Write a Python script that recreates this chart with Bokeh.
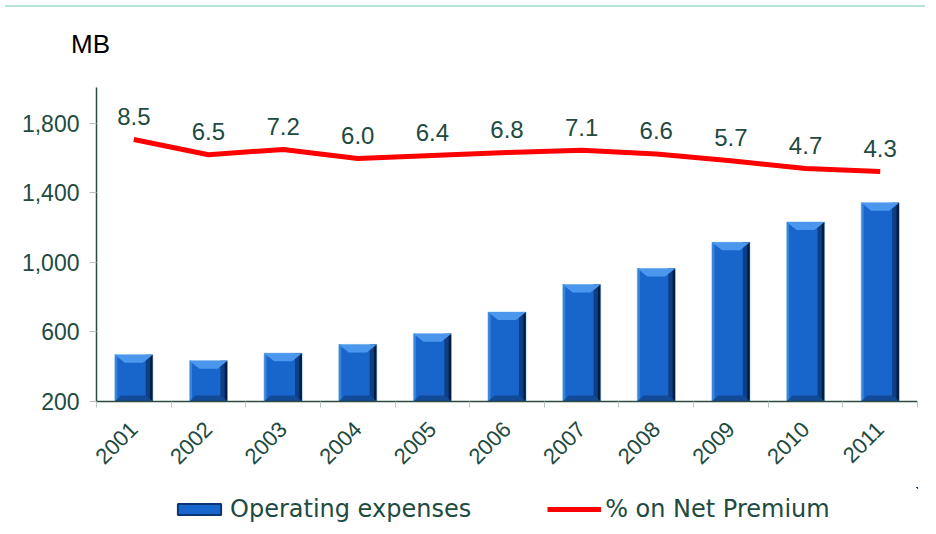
import numpy as np
from math import pi
from bokeh.plotting import figure
from bokeh.models import (ColumnDataSource, Range1d, FixedTicker, Legend, LegendItem,
                          Div, NumeralTickFormatter)
from bokeh.layouts import column
from bokeh.transform import dodge
from bokeh.embed import file_html
from bokeh.resources import INLINE
from bokeh.core.properties import value

# ---- data ----
years = ["2001", "2002", "2003", "2004", "2005", "2006", "2007", "2008", "2009", "2010", "2011"]
operating_expenses = [469, 434, 478, 528, 590, 714, 872, 965, 1115, 1232, 1343]
pct_net_premium = [8.5, 6.5, 7.2, 6.0, 6.4, 6.8, 7.1, 6.6, 5.7, 4.7, 4.3]
y_ticks = [200, 600, 1000, 1400, 1800]
unit_label = "MB"
series_names = ["Operating expenses", "% on Net Premium"]

TXT = "#214A40"
FONT = "Liberation Sans"
BAR_FILL = "#1866CC"
BAR_EDGE = "#A8D4F0"
LINE_RED = "#FF0000"

n = len(years)
xc = np.arange(n) + 0.5
base_val = y_ticks[0]
bw = 0.51

src = ColumnDataSource(dict(
    x=xc, top=operating_expenses, pct=pct_net_premium,
    lbl=[f"{v:.1f}" for v in pct_net_premium],
))

# ---- header: thin rule and unit label ----
header = Div(
    text=(
        '<div style="position:relative;width:920px;height:65px;'
        'border-top:2px solid #B5E2DC;">'
        '<span style="position:absolute;left:66px;top:24px;'
        "font-family:'Liberation Sans',Arial,sans-serif;font-size:26px;"
        f'line-height:1;color:#000;">{unit_label}</span></div>'
    ),
    width=920, height=67,
)

# ---- main chart ----
p = figure(width=920, height=410, output_backend="svg", toolbar_location=None,
           x_range=Range1d(0, n), y_range=Range1d(200, 2005),
           min_border_left=96, min_border_right=3, min_border_top=10, min_border_bottom=86)
p.extra_y_ranges = {"pct": Range1d(-25.93, 15.34)}
p.grid.visible = False
p.outline_line_color = None
p.background_fill_color = "white"
p.border_fill_color = "white"

# bars (layered for a bevelled look)
p.vbar(x="x", top="top", bottom=base_val, width=bw, source=src,
       fill_color=BAR_FILL, line_color=BAR_EDGE, line_width=1)
p.vbar(x=dodge("x", -0.235, range=p.x_range), top="top", bottom=base_val, width=0.03,
       source=src, fill_color="#3A82DA", line_color=None)
p.vbar(x=dodge("x", 0.19, range=p.x_range), top="top", bottom=base_val, width=0.06,
       source=src, fill_color="#0E3F86", line_color=None)
p.vbar(x=dodge("x", 0.235, range=p.x_range), top="top", bottom=base_val, width=0.035,
       source=src, fill_color="#061C3E", line_color=None)

bevel_h = 46
tx, ty, bx, by = [], [], [], []
for x, t in zip(xc, operating_expenses):
    tx.append([x - bw / 2, x + bw / 2, x + 0.12, x - 0.12])
    ty.append([t, t, t - bevel_h, t - bevel_h])
    bx.append([x - bw / 2, x + bw / 2, x + 0.17, x - 0.17])
    by.append([base_val, base_val, base_val + 34, base_val + 34])
p.patches(tx, ty, fill_color="#4C97EE", line_color=None)
p.patches(bx, by, fill_color="#114A96", line_color=None)

# line on hidden secondary scale
p.line(x="x", y="pct", source=src, y_range_name="pct", line_color=LINE_RED, line_width=5)
p.text(x="x", y="pct", text="lbl", source=src, y_range_name="pct", y_offset=-23,
       text_align="center", text_baseline="middle", text_font=value(FONT),
       text_font_size="24px", text_color=TXT)

# axes
xa = p.xaxis[0]
xa.ticker = FixedTicker(ticks=list(xc), minor_ticks=list(range(n + 1)))
xa.major_label_overrides = {float(x): y for x, y in zip(xc, years)}
xa.major_tick_out = 0
xa.major_tick_in = 0
xa.minor_tick_out = 6
xa.minor_tick_in = 0
xa.minor_tick_line_color = "#B8C4C0"
xa.axis_line_color = "#2D4A42"
xa.axis_line_width = 1.5
xa.major_label_orientation = pi / 4
xa.major_label_standoff = 18
xa.major_label_text_font = FONT
xa.major_label_text_font_size = "22px"
xa.major_label_text_color = TXT

ya = p.yaxis[0]
ya.ticker = FixedTicker(ticks=y_ticks, minor_ticks=[])
ya.formatter = NumeralTickFormatter(format="0,0")
ya.major_tick_out = 7
ya.major_tick_in = 0
ya.major_tick_line_color = "#B8C4C0"
ya.axis_line_color = "#2D4A42"
ya.axis_line_width = 1.5
ya.major_label_standoff = 10
ya.major_label_text_font = FONT
ya.major_label_text_font_size = "23px"
ya.major_label_text_color = TXT

# ---- legend strip (series glyphs fall outside this strip's ranges; only the legend shows) ----
lg = figure(width=920, height=41, output_backend="svg", toolbar_location=None,
            x_range=Range1d(-1000, -999), y_range=Range1d(-1000, -999),
            x_axis_location=None, y_axis_location=None,
            min_border_left=0, min_border_right=0, min_border_top=0, min_border_bottom=0)
lg.grid.visible = False
lg.outline_line_color = None
r_bar = lg.vbar(x="x", top="top", bottom=base_val, width=bw, source=src,
                fill_color=BAR_FILL, line_color="#0A3672", line_width=2)
r_line = lg.line(x="x", y="pct", source=src, line_color=LINE_RED, line_width=5)
legend = Legend(items=[LegendItem(label=series_names[0], renderers=[r_bar]),
                       LegendItem(label=series_names[1], renderers=[r_line])],
                location=(76, 5), orientation="horizontal",
                glyph_width=54, glyph_height=14, label_standoff=4, spacing=76,
                padding=0, margin=0, border_line_alpha=0, background_fill_alpha=0,
                label_text_font="DejaVu Sans", label_text_font_size="24px",
                label_text_color=TXT)
lg.add_layout(legend)

layout = column(header, p, lg, spacing=0)

open("out.html", "w").write(file_html(layout, INLINE))
